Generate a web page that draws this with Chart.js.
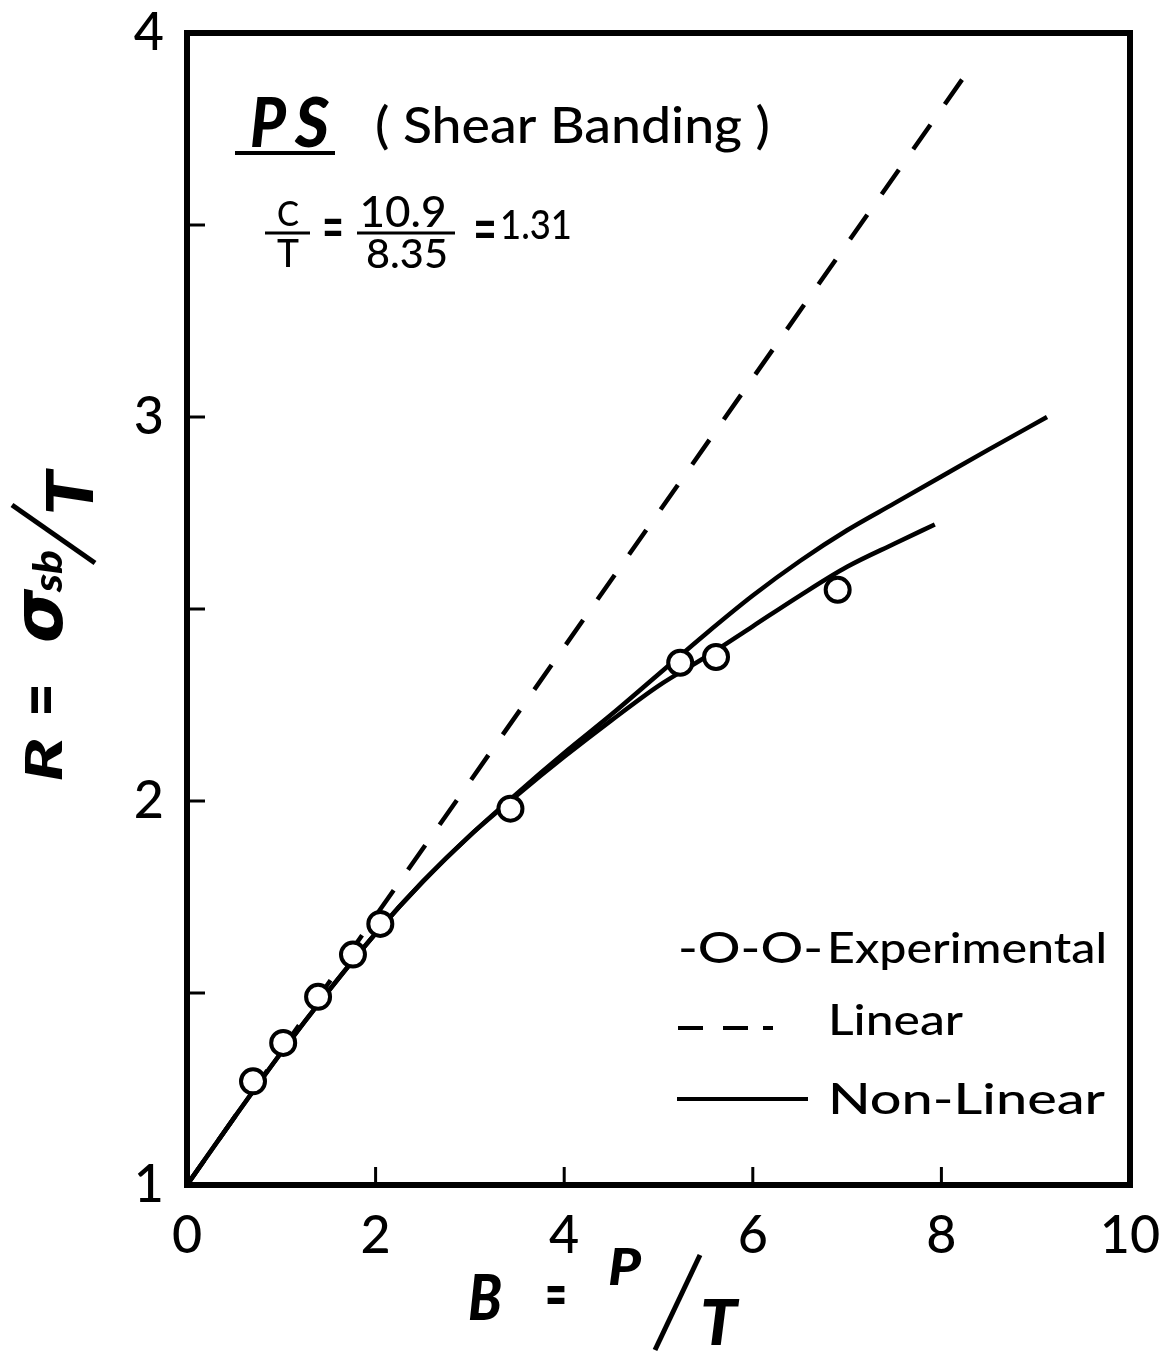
<!DOCTYPE html>
<html>
<head>
<meta charset="utf-8">
<script src="https://cdn.jsdelivr.net/npm/chart.js@4.4.0/dist/chart.umd.min.js"></script>
<style>
  html, body { margin: 0; padding: 0; background: #fff; }
  #wrap { width: 1163px; height: 1355px; }
</style>
</head>
<body>
<div id="wrap"><canvas id="graph" width="1163" height="1355"></canvas></div>
<script>
// values (B = P/T, R = sigma_sb/T)
const expB = [0.70, 1.02, 1.39, 1.76, 2.05, 3.43, 5.23, 5.61, 6.90];
const expR = [1.27, 1.37, 1.49, 1.60, 1.68, 1.98, 2.36, 2.375, 2.55];

const linB = [0, 8.28];
const linR = [1, 3.90];

const nlUpB = [0, 0.5, 1, 1.5, 2, 2.5, 3, 3.5, 4, 4.5, 5, 5.5, 6, 6.5, 7, 7.5, 8, 8.5, 9.12];
const nlUpR = [1, 1.175, 1.345, 1.505, 1.655, 1.79, 1.91, 2.02, 2.125, 2.225, 2.33, 2.435, 2.535, 2.625, 2.705, 2.775, 2.845, 2.915, 3.0];

const nlLoB = [0, 0.5, 1, 1.5, 2, 2.5, 3, 3.5, 4, 4.5, 5, 5.5, 6, 6.5, 7, 7.5, 7.93];
const nlLoR = [1, 1.175, 1.345, 1.505, 1.655, 1.79, 1.91, 2.015, 2.115, 2.21, 2.30, 2.375, 2.455, 2.535, 2.61, 2.67, 2.72];

const xTickLabels = [0, 2, 4, 6, 8, 10];
const yTickLabels = [1, 2, 3, 4];

const FONT = "Lato, 'DejaVu Sans', sans-serif";

function pts(xs, ys) {
  return xs.map((x, i) => ({ x: x, y: ys[i] }));
}

// text squeezed/stretched to a given width
function fitText(ctx, s, x, y, font, w, align) {
  ctx.save();
  ctx.font = font;
  ctx.textBaseline = "alphabetic";
  ctx.textAlign = "left";
  let m = ctx.measureText(s).width;
  let sx = w ? w / m : 1;
  let x0 = x;
  if (align === "center") x0 = x - m * sx / 2;
  if (align === "right") x0 = x - m * sx;
  ctx.translate(x0, y);
  ctx.scale(sx, 1);
  ctx.fillText(s, 0, 0);
  ctx.restore();
}

function line(ctx, x1, y1, x2, y2, lw) {
  ctx.beginPath();
  ctx.lineWidth = lw;
  ctx.moveTo(x1, y1);
  ctx.lineTo(x2, y2);
  ctx.stroke();
}

const decor = {
  id: "decor",
  afterDraw(chart) {
    const ctx = chart.ctx;
    const a = chart.chartArea;
    const xs = chart.scales.x, ys = chart.scales.y;
    ctx.save();
    ctx.strokeStyle = "#000";
    ctx.fillStyle = "#000";
    ctx.lineCap = "butt";

    // frame
    ctx.lineWidth = 6;
    ctx.strokeRect(a.left, a.top, a.right - a.left, a.bottom - a.top);

    // inward ticks
    xs.ticks.forEach(t => {
      if (t.value <= xs.min || t.value >= xs.max) return;
      const px = xs.getPixelForValue(t.value);
      line(ctx, px, a.bottom, px, a.bottom - 18, 3);
    });
    ys.ticks.forEach(t => {
      if (t.value <= ys.min || t.value >= ys.max) return;
      const py = ys.getPixelForValue(t.value);
      line(ctx, a.left, py, a.left + 18, py, 3);
    });

    // title
    fitText(ctx, "P", 250, 147, "italic 900 68px " + FONT, 36);
    fitText(ctx, "S", 295, 147, "italic 900 68px " + FONT, 34);
    line(ctx, 235, 153, 335, 153, 4);
    fitText(ctx, "( Shear Banding )", 375, 143, "500 50px " + FONT, 395);

    // ratio C/T
    fitText(ctx, "C", 288, 226, "500 34px " + FONT, 22, "center");
    line(ctx, 265, 233, 310, 233, 3);
    fitText(ctx, "T", 288, 267, "500 38px " + FONT, 22, "center");
    fitText(ctx, "=", 333, 251, "500 72px " + FONT, 22, "center");
    fitText(ctx, "10.9", 403, 227, "500 42px " + FONT, 87, "center");
    line(ctx, 357, 233, 455, 233, 3);
    fitText(ctx, "8.35", 407, 268, "500 40px " + FONT, 82, "center");
    fitText(ctx, "=", 485, 253, "500 72px " + FONT, 24, "center");
    fitText(ctx, "1.31", 500, 239, "500 40px " + FONT, 72);

    // y axis title, rotated
    ctx.save();
    ctx.translate(62, 782);
    ctx.rotate(-Math.PI / 2);
    fitText(ctx, "R", 0, 0, "italic 900 52px " + FONT, 44);
    fitText(ctx, "=", 65, 4, "bold 72px " + FONT, 34);
    fitText(ctx, "\u03c3", 139, 0, "italic 900 70px 'DejaVu Sans', sans-serif", 54);
    fitText(ctx, "sb", 190, 0, "italic 900 40px " + FONT, 42);
    line(ctx, 219, 33, 277, -50, 5);
    fitText(ctx, "T", 266, 31, "italic 900 64px " + FONT, 45);
    ctx.restore();

    // x axis title
    fitText(ctx, "B", 468, 1320, "italic 900 62px " + FONT, 34);
    fitText(ctx, "=", 556, 1318, "bold 66px " + FONT, 22, "center");
    fitText(ctx, "P", 608, 1285, "italic 900 52px " + FONT, 33);
    line(ctx, 655, 1350, 700, 1255, 5);
    fitText(ctx, "T", 700, 1345, "italic 900 62px " + FONT, 37);

    // legend
    fitText(ctx, "-O-O-", 678, 963, "500 43px " + FONT, 145);
    fitText(ctx, "Experimental", 827, 963, "500 43px " + FONT, 280);
    line(ctx, 678, 1028, 703, 1028, 4);
    line(ctx, 723, 1028, 748, 1028, 4);
    line(ctx, 763, 1028, 773, 1028, 4);
    fitText(ctx, "Linear", 828, 1035, "500 43px " + FONT, 135);
    line(ctx, 677, 1099, 808, 1099, 4);
    fitText(ctx, "Non-Linear", 828, 1114, "500 43px " + FONT, 277);

    ctx.restore();
  }
};

new Chart(document.getElementById("graph"), {
  type: "scatter",
  data: {
    datasets: [
      {
        label: "Experimental",
        data: pts(expB, expR),
        showLine: false,
        pointStyle: "circle",
        pointRadius: 12,
        pointBorderWidth: 4,
        pointBackgroundColor: "#fff",
        pointBorderColor: "#000",
        order: 0,
      },
      {
        label: "Linear",
        data: pts(linB, linR),
        showLine: true,
        borderColor: "#000",
        borderWidth: 4.5,
        borderDash: [30, 25],
        pointRadius: 0,
        order: 3,
      },
      {
        label: "Non-Linear",
        data: pts(nlUpB, nlUpR),
        showLine: true,
        borderColor: "#000",
        borderWidth: 4.5,
        cubicInterpolationMode: "monotone",
        pointRadius: 0,
        order: 2,
      },
      {
        label: "Non-Linear (lower)",
        data: pts(nlLoB, nlLoR),
        showLine: true,
        borderColor: "#000",
        borderWidth: 4.5,
        cubicInterpolationMode: "monotone",
        pointRadius: 0,
        order: 1,
      },
    ],
  },
  options: {
    responsive: false,
    animation: false,
    devicePixelRatio: 1,
    layout: { padding: { top: 33, right: 33, left: 0, bottom: 0 } },
    plugins: {
      legend: { display: false },
      tooltip: { enabled: false },
    },
    scales: {
      x: {
        type: "linear",
        min: 0,
        max: 10,
        grid: { display: false },
        border: { display: false },
        afterBuildTicks: s => { s.ticks = xTickLabels.map(v => ({ value: v })); },
        afterFit: s => { s.height = 170; s.paddingLeft = 0; s.paddingRight = 0; },
        ticks: {
          color: "#000",
          padding: 12,
          font: { family: FONT, size: 52, weight: "500" },
        },
      },
      y: {
        type: "linear",
        min: 1,
        max: 4,
        grid: { display: false },
        border: { display: false },
        afterBuildTicks: s => {
          let t = [];
          for (let i = 0; i <= 6; i++) t.push({ value: 1 + i * 0.5 });
          s.ticks = t;
        },
        afterFit: s => { s.width = 187; s.paddingTop = 0; s.paddingBottom = 0; },
        ticks: {
          color: "#000",
          padding: 15,
          font: { family: FONT, size: 52, weight: "500" },
          callback: v => (yTickLabels.includes(v) ? String(v) : ""),
        },
      },
    },
  },
  plugins: [decor],
});
</script>
</body>
</html>
